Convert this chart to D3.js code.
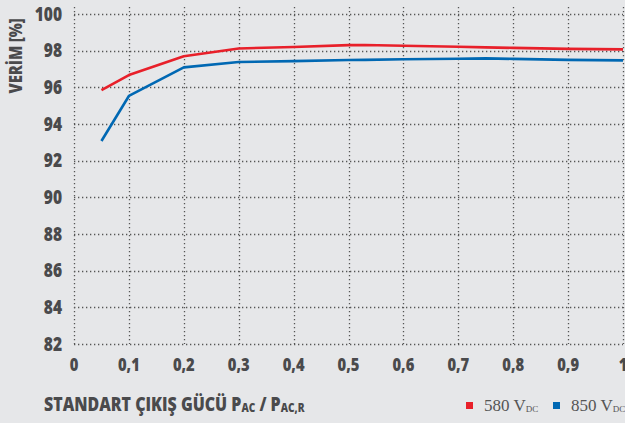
<!DOCTYPE html>
<meta charset="utf-8">
<script src="https://d3js.org/d3.v7.min.js"></script>
<div id="chart"></div>
<style>
	body {
		margin: 0;
		padding: 0;
		background-color: #e6e7e9;
		overflow: hidden;
	}
	.cond {
		font-family: "Open Sans", "Noto Sans", sans-serif;
		font-weight: 800;
		fill: #4a4a4c;
	}
</style>
<script>
	// values
	const loads = [0.05, 0.1, 0.2, 0.3, 0.4, 0.5, 0.53, 0.6, 0.7, 0.75, 0.8, 0.9, 1.0];
	const eff580 = [95.85, 96.67, 97.7, 98.12, 98.2, 98.3, 98.31, 98.27, 98.21, 98.18, 98.15, 98.1, 98.07];
	const eff850 = [93.07, 95.53, 97.09, 97.38, 97.43, 97.49, 97.5, 97.53, 97.56, 97.58, 97.55, 97.5, 97.47];

	const xTicks = [0, 0.1, 0.2, 0.3, 0.4, 0.5, 0.6, 0.7, 0.8, 0.9, 1];
	const yTicks = [82, 84, 86, 88, 90, 92, 94, 96, 98, 100];

	const seriesNames = ["580", "850"];
	const seriesColors = ["#e8202a", "#0068b3"];

	const WIDTH = 625, HEIGHT = 423;
	const SQ = 0.82; // horizontal squeeze to imitate a condensed face

	const svg = d3.select("#chart").append("svg")
		.attr("width", WIDTH)
		.attr("height", HEIGHT);

	const x = d3.scaleLinear().domain([0, 1]).range([74, 623]);
	const y = d3.scaleLinear().domain([82, 100]).range([344, 14]);

	const fmt = d => String(d).replace(".", ",");

	// grid
	const grid = svg.append("g")
		.attr("stroke", "#555")
		.attr("stroke-width", 1.3)
		.attr("stroke-dasharray", "1.3,2.7");

	grid.selectAll("line.v")
		.data(xTicks)
		.join("line")
		.attr("class", "v")
		.attr("x1", d => Math.round(x(d)) + 0.5)
		.attr("x2", d => Math.round(x(d)) + 0.5)
		.attr("y1", y(100) - 7)
		.attr("y2", y(82));

	grid.selectAll("line.h")
		.data(yTicks)
		.join("line")
		.attr("class", "h")
		.attr("x1", x(0))
		.attr("x2", x(1))
		.attr("y1", d => Math.round(y(d)) + 0.5)
		.attr("y2", d => Math.round(y(d)) + 0.5);

	// y tick labels
	svg.append("g").selectAll("text")
		.data(yTicks)
		.join("text")
		.attr("class", "cond")
		.attr("transform", d => `translate(62,${y(d) + 6.5}) scale(${SQ},1)`)
		.attr("text-anchor", "end")
		.style("font-size", "19px")
		.text(d => d);

	// x tick labels
	svg.append("g").selectAll("text")
		.data(xTicks)
		.join("text")
		.attr("class", "cond")
		.attr("transform", d => `translate(${x(d)},370.5) scale(${SQ},1)`)
		.attr("text-anchor", "middle")
		.style("font-size", "18px")
		.text(fmt);

	// lines
	const line = d3.line()
		.x(d => x(d[0]))
		.y(d => y(d[1]));

	[eff580, eff850].forEach((vals, i) => {
		svg.append("path")
			.datum(loads.map((l, j) => [l, vals[j]]))
			.attr("fill", "none")
			.attr("stroke", seriesColors[i])
			.attr("stroke-width", 2.6)
			.attr("stroke-linejoin", "round")
			.attr("d", line);
	});

	// axis titles
	svg.append("text")
		.attr("class", "cond")
		.attr("transform", `translate(22,56) rotate(-90) scale(${SQ},1)`)
		.attr("text-anchor", "middle")
		.style("font-size", "18px")
		.text("VERİM [%]");

	const xt = svg.append("text")
		.attr("class", "cond")
		.attr("transform", `translate(44,411) scale(0.84,1)`)
		.style("font-size", "19px");
	xt.append("tspan").text("STANDART ÇIKIŞ GÜCÜ P");
	xt.append("tspan").style("font-size", "12px").attr("dy", 1).text("AC");
	xt.append("tspan").attr("dy", -1).text(" / P");
	xt.append("tspan").style("font-size", "12px").attr("dy", 1).text("AC,R");

	// legend
	const legendX = [466, 553];
	const leg = svg.append("g").selectAll("g")
		.data(seriesNames)
		.join("g")
		.attr("transform", (d, i) => `translate(${legendX[i]},0)`);

	leg.append("rect")
		.attr("x", 0)
		.attr("y", 402)
		.attr("width", 7)
		.attr("height", 7)
		.attr("fill", (d, i) => seriesColors[i]);

	const lt = leg.append("text")
		.attr("x", 18)
		.attr("y", 411)
		.style("font-family", "'Liberation Serif', 'DejaVu Serif', serif")
		.style("font-size", "17px")
		.attr("fill", "#555");
	lt.append("tspan").text(d => d + " V");
	lt.append("tspan").style("font-size", "9px").attr("dy", 1).text("DC");
</script>
